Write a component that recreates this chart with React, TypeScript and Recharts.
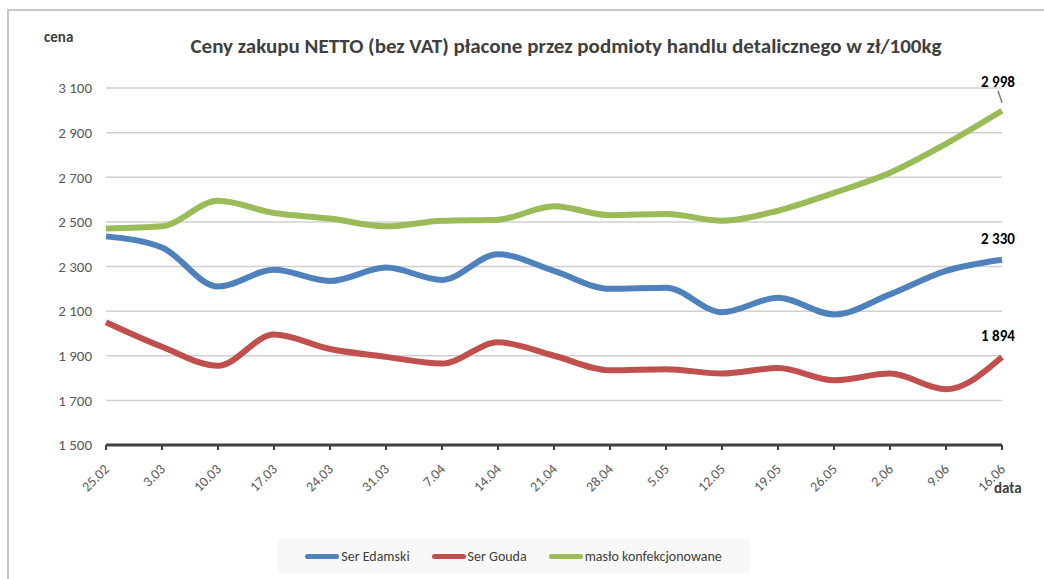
import { LineChart, Line, XAxis, YAxis, CartesianGrid, LabelList } from "recharts"

const dates = ["25.02", "3.03", "10.03", "17.03", "24.03", "31.03", "7.04", "14.04", "21.04", "28.04", "5.05", "12.05", "19.05", "26.05", "2.06", "9.06", "16.06"]
const edamski = [2435, 2385, 2210, 2285, 2235, 2295, 2240, 2355, 2280, 2200, 2205, 2095, 2160, 2085, 2175, 2280, 2330]
const gouda = [2050, 1940, 1855, 1995, 1930, 1895, 1865, 1960, 1900, 1835, 1840, 1820, 1845, 1790, 1820, 1750, 1894]
const maslo = [2470, 2480, 2595, 2540, 2515, 2480, 2505, 2510, 2570, 2530, 2535, 2505, 2550, 2630, 2720, 2850, 2998]
const yTicks = [1500, 1700, 1900, 2100, 2300, 2500, 2700, 2900, 3100]

const series = [
  { key: "edamski", name: "Ser Edamski", color: "#4F81BD" },
  { key: "gouda", name: "Ser Gouda", color: "#C0504D" },
  { key: "maslo", name: "masło konfekcjonowane", color: "#9BBB59" },
]

const data = dates.map((d, i) => ({ date: d, edamski: edamski[i], gouda: gouda[i], maslo: maslo[i] }))

const fmt = (v: number) => String(Math.round(v)).replace(/\B(?=(\d{3})+(?!\d))/g, " ")

const FONT = "Calibri, Carlito, 'Liberation Sans Narrow', 'Open Sans', sans-serif"

const lastLabel = (dy: number, leader?: boolean) => (props: any) => {
  const { x, y, value, index } = props
  if (index !== dates.length - 1) return null
  return (
    <g>
      {leader && <line x1={x - 4} y1={y - 20} x2={x} y2={y - 8} stroke="#7f7f7f" strokeWidth={1.5} />}
      <text x={x - 4} y={y + dy} textAnchor="middle" fontSize={15} fontWeight="bold" fill="#000" fontFamily={FONT}>
        {fmt(value)}
      </text>
    </g>
  )
}

const XTick = (props: any) => {
  const { x, y, payload } = props
  const tx = x + 4
  const ty = y + 18
  return (
    <text x={tx} y={ty} transform={`rotate(-45 ${tx} ${ty})`} textAnchor="end" fontSize={14} fill="#595959" fontFamily={FONT}>
      {payload.value}
    </text>
  )
}

export default function App() {
  return (
    <div style={{ position: "absolute", left: 0, top: 0, width: 1044, height: 579, background: "#fff", overflow: "hidden" }}>
      <div style={{ position: "absolute", left: 7, top: 9, width: 1100, height: 600, border: "2px solid #c8c8c8" }} />
      <div style={{ position: "absolute", left: 0, top: 33, width: 1132, textAlign: "center", fontFamily: FONT, fontSize: 21, fontWeight: "bold", color: "#404040" }}>
        Ceny zakupu NETTO (bez VAT) płacone przez podmioty handlu detalicznego w zł/100kg
      </div>
      <div style={{ position: "absolute", left: 44, top: 28, fontFamily: FONT, fontSize: 15, fontWeight: "bold", color: "#404040" }}>cena</div>
      <div style={{ position: "absolute", left: 994, top: 479, fontFamily: FONT, fontSize: 15, fontWeight: "bold", color: "#404040" }}>data</div>
      <div style={{ position: "absolute", left: 0, top: 0 }}>
        <LineChart width={1044} height={579} data={data} margin={{ top: 88, right: 42, bottom: 104, left: 0 }}>
          <CartesianGrid horizontal vertical={false} stroke="#d0d0d0" strokeWidth={1.5} />
          <XAxis
            dataKey="date"
            interval={0}
            height={30}
            tick={<XTick />}
            tickLine={{ stroke: "#404040", strokeWidth: 2 }}
            tickSize={5}
            axisLine={{ stroke: "#404040", strokeWidth: 3 }}
          />
          <YAxis
            domain={[1500, 3100]}
            ticks={yTicks}
            width={106}
            tickFormatter={fmt}
            axisLine={false}
            tickLine={false}
            tickMargin={8}
            tick={{ fontSize: 15, fill: "#595959", fontFamily: FONT }}
          />
          {series.map((s) => (
            <Line key={s.key} type="monotone" dataKey={s.key} name={s.name} stroke={s.color} strokeWidth={6} dot={false} isAnimationActive={false}>
              <LabelList dataKey={s.key} content={lastLabel(s.key === "maslo" ? -24 : -16, s.key === "maslo")} />
            </Line>
          ))}
        </LineChart>
      </div>
      <div style={{ position: "absolute", left: 277, top: 539, width: 473, height: 34, background: "#f8f8f8", display: "flex", alignItems: "center", justifyContent: "center", gap: 22, fontFamily: FONT, fontSize: 14, color: "#404040" }}>
        {series.map((s) => (
          <div key={s.key} style={{ display: "flex", alignItems: "center" }}>
            <span style={{ display: "inline-block", width: 34, height: 5, borderRadius: 3, background: s.color, marginRight: 2 }} />
            {s.name}
          </div>
        ))}
      </div>
    </div>
  )
}
